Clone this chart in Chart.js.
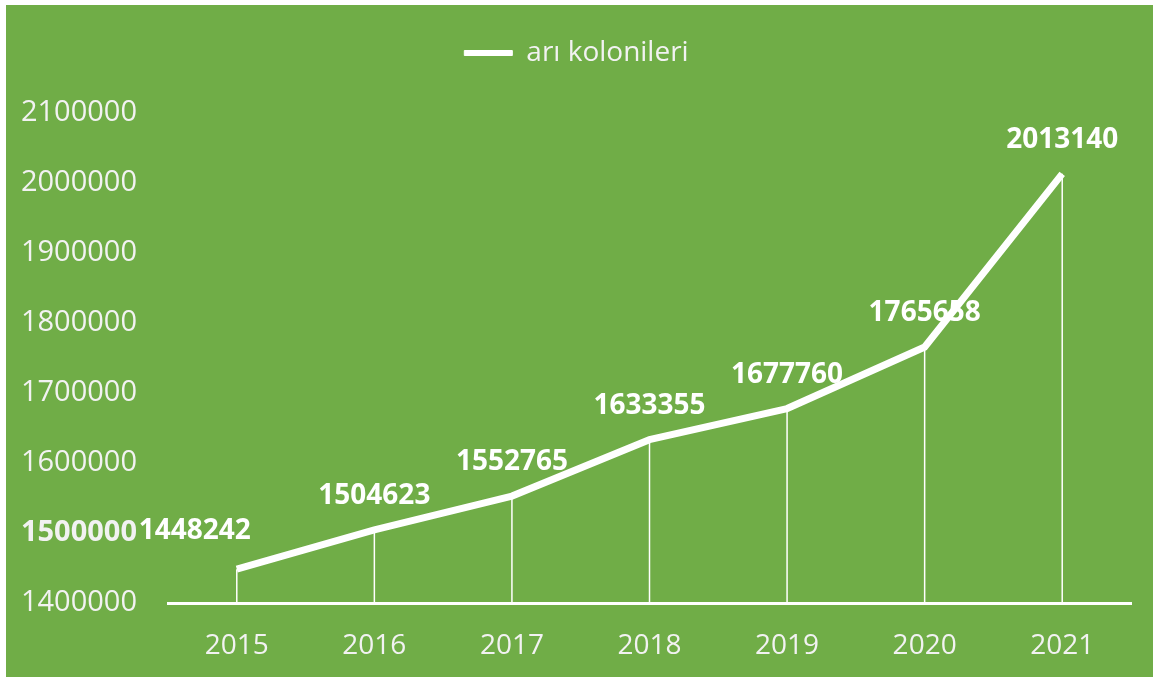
<!DOCTYPE html>
<html>
<head>
<meta charset="utf-8">
<script src="https://cdn.jsdelivr.net/npm/chart.js@4"></script>
<style>
  html, body { margin: 0; padding: 0; background: #ffffff; }
  #wrap { position: absolute; left: 6px; top: 5px; width: 1147px; height: 672px; background: #70ad47; }
</style>
</head>
<body>
<div id="wrap"><canvas id="chart"></canvas></div>
<script>
// DATA
const years = ["2015", "2016", "2017", "2018", "2019", "2020", "2021"];
const koloniler = [1448242, 1504623, 1552765, 1633355, 1677760, 1765658, 2013140];
const yMin = 1400000;
const yMax = 2100000;
const yStep = 100000;

const fontFam = "'Open Sans', 'Noto Sans', sans-serif";

// drop lines from each point down to the axis
const dropLines = {
  id: "dropLines",
  beforeDatasetsDraw(chart) {
    const ctx = chart.ctx;
    const meta = chart.getDatasetMeta(0);
    const bottom = chart.chartArea.bottom;
    ctx.save();
    ctx.strokeStyle = "#ffffff";
    ctx.lineWidth = 1.5;
    meta.data.forEach((pt) => {
      ctx.beginPath();
      ctx.moveTo(pt.x, pt.y);
      ctx.lineTo(pt.x, bottom);
      ctx.stroke();
    });
    ctx.restore();
  },
};

// value labels above points
const valueLabels = {
  id: "valueLabels",
  afterDatasetsDraw(chart) {
    const ctx = chart.ctx;
    const meta = chart.getDatasetMeta(0);
    const data = chart.data.datasets[0].data;
    ctx.save();
    ctx.fillStyle = "#ffffff";
    ctx.font = "bold 28px " + fontFam;
    ctx.textBaseline = "middle";
    meta.data.forEach((pt, i) => {
      if (i === 0) {
        // first label sits left so it stays inside the plot
        ctx.textAlign = "right";
        ctx.fillText(String(data[i]), pt.x + 14, pt.y - 38);
      } else {
        ctx.textAlign = "center";
        ctx.fillText(String(data[i]), pt.x, pt.y - 34);
      }
    });
    ctx.restore();
  },
};

const ctx = document.getElementById("chart");

new Chart(ctx, {
  type: "line",
  data: {
    labels: years,
    datasets: [
      {
        label: "arı kolonileri",
        data: koloniler,
        borderColor: "#ffffff",
        backgroundColor: "#ffffff",
        borderWidth: 7,
        pointRadius: 0,
        tension: 0,
      },
    ],
  },
  options: {
    responsive: true,
    maintainAspectRatio: false,
    animation: false,
    layout: { padding: { top: 24, left: 16, right: 22, bottom: 0 } },
    plugins: {
      tooltip: { enabled: false },
      // empty spacer between legend and plot
      title: {
        display: true,
        text: "",
        weight: 500,
        font: { size: 10 },
        padding: { top: 0, bottom: 24 },
      },
      legend: {
        position: "top",
        labels: {
          color: "#f2f2f2",
          font: { family: fontFam, size: 28 },
          boxWidth: 48,
          boxHeight: 5,
          padding: 10,
          generateLabels(chart) {
            return Chart.defaults.plugins.legend.labels.generateLabels(chart).map((l) => {
              l.lineWidth = 1;
              return l;
            });
          },
        },
      },
    },
    scales: {
      x: {
        offset: true,
        grid: { display: false, drawTicks: false },
        border: { display: true, color: "#ffffff", width: 3 },
        ticks: {
          color: "#f2f2f2",
          font: { family: fontFam, size: 28 },
          padding: 26,
        },
        afterFit(scale) {
          scale.height = 74;
        },
      },
      y: {
        min: yMin,
        max: yMax,
        grid: { display: false, drawTicks: false },
        border: { display: false },
        ticks: {
          stepSize: yStep,
          color: "#f2f2f2",
          padding: 31,
          font(c) {
            const bold = c.tick && c.tick.value === 1500000;
            return { family: fontFam, size: 29, weight: bold ? "bold" : "normal" };
          },
          callback: (v) => String(v),
        },
        afterFit(scale) {
          scale.width = 146;
        },
      },
    },
  },
  plugins: [dropLines, valueLabels],
});
</script>
</body>
</html>
